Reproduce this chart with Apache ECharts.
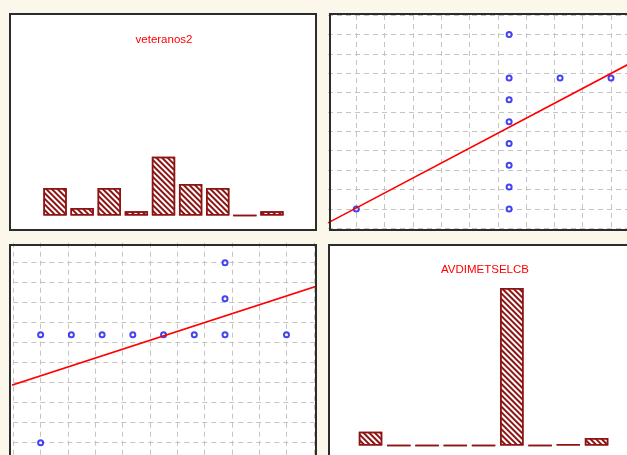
<!DOCTYPE html>
<html>
<head>
<meta charset="utf-8">
<script src="https://cdn.jsdelivr.net/npm/echarts@6/dist/echarts.min.js"></script>
<style>
  html, body { margin: 0; padding: 0; background: #fcf7eb; }
  #chart { width: 627px; height: 455px; }
</style>
</head>
<body>
<div id="chart"></div>
<script>
// Histogram bin counts for each variable (9 bins each)
const binLabels = ['1', '2', '3', '4', '5', '6', '7', '8', '9'];
const veteranos2Counts = [10, 2.7, 10, 1.5, 21.3, 11.4, 10, 0, 1.5];
const avdCounts = [5.0, 0, 0, 0, 0, 57.3, 0, 0.55, 2.7];
const sampleSize = 73;

// Paired observations: veteranos2 and AVDIMETSELCB
const veteranos2Values = [1, 1, 2, 3, 4, 5, 6, 7, 9, 7, 7];
const avdValues = [1, 6.4, 6.4, 6.4, 6.4, 6.4, 6.4, 6.4, 6.4, 8.2, 10];

// Least-squares fits in both directions
const fitVetOnAvd = { intercept: 0.36, slope: 0.685 };
const fitAvdOnVet = { intercept: 3.84, slope: 0.5 };

// Axis ranges: data range padded by one bin width on each side
const vetRange = [1 - 8 / 9, 9 + 8 / 9];
const avdRange = [0, 11];

const BAR_RED = '#8e1414';
const FRAME = '#2c2c2c';
const DOT_BLUE = '#1414f0';

const hatch = {
  symbol: 'rect',
  symbolSize: 1,
  color: BAR_RED,
  dashArrayX: [1, 0],
  dashArrayY: [1.5, 1.5],
  rotation: Math.PI / 4
};

const barStyle = {
  color: '#ffffff',
  borderColor: BAR_RED,
  borderWidth: 1.5,
  decal: hatch
};

const dashLine = { color: '#c4c4c4', width: 1, type: [5, 4] };

// Dashed 11-division reference grid
function gridAxis(gridIndex, splitExtra) {
  return {
    type: 'value', gridIndex: gridIndex, min: 0, max: 11, interval: 1,
    axisLine: { show: false }, axisTick: { show: false }, axisLabel: { show: false },
    splitLine: Object.assign({ show: true, lineStyle: dashLine }, splitExtra || {})
  };
}
function dataAxis(gridIndex, range) {
  return { type: 'value', gridIndex: gridIndex, min: range[0], max: range[1], show: false };
}

function fitLine(fit, range) {
  return range.map(function (x) { return [x, fit.intercept + fit.slope * x]; });
}

const chart = echarts.init(document.getElementById('chart'), null, { renderer: 'canvas' });

chart.setOption({
  animation: false,
  backgroundColor: '#fcf7eb',
  grid: [
    { left: 41.5, top: 14, width: 244, height: 201.5, outerBoundsMode: 'none' },
    { left: 328, top: 15, width: 311.3, height: 213.3, outerBoundsMode: 'none' },
    { left: 13.3, top: 242.7, width: 300.5, height: 220, outerBoundsMode: 'none' },
    { left: 356.4, top: 245, width: 254.3, height: 200.5, outerBoundsMode: 'none' }
  ],
  xAxis: [
    { type: 'category', gridIndex: 0, data: binLabels, show: false },
    gridAxis(1, { showMinLine: false }),
    dataAxis(1, avdRange),
    gridAxis(2),
    dataAxis(2, vetRange),
    { type: 'category', gridIndex: 3, data: binLabels, show: false }
  ],
  yAxis: [
    { type: 'value', gridIndex: 0, min: 0, max: sampleSize, show: false },
    gridAxis(1),
    dataAxis(1, vetRange),
    gridAxis(2, { showMaxLine: false }),
    dataAxis(2, avdRange),
    { type: 'value', gridIndex: 3, min: 0, max: sampleSize, show: false }
  ],
  graphic: [
    { type: 'rect', z: -10, shape: { x: 10, y: 14, width: 306, height: 216 }, style: { fill: '#ffffff' } },
    { type: 'rect', z: -10, shape: { x: 330, y: 14, width: 320, height: 216 }, style: { fill: '#ffffff' } },
    { type: 'rect', z: -10, shape: { x: 10, y: 245, width: 306, height: 230 }, style: { fill: '#ffffff' } },
    { type: 'rect', z: -10, shape: { x: 329, y: 245, width: 320, height: 230 }, style: { fill: '#ffffff' } },
    { type: 'rect', z: 100, shape: { x: 10, y: 14, width: 306, height: 216 }, style: { fill: 'none', stroke: FRAME, lineWidth: 2 } },
    { type: 'rect', z: 100, shape: { x: 330, y: 14, width: 320, height: 216 }, style: { fill: 'none', stroke: FRAME, lineWidth: 2 } },
    { type: 'rect', z: 100, shape: { x: 10, y: 245, width: 306, height: 230 }, style: { fill: 'none', stroke: FRAME, lineWidth: 2 } },
    { type: 'rect', z: 100, shape: { x: 329, y: 245, width: 320, height: 230 }, style: { fill: 'none', stroke: FRAME, lineWidth: 2 } },
    { type: 'text', z: 100, x: 164, y: 40, style: { text: 'veteranos2', fill: '#ff0000', font: '11.5px "Liberation Sans", Arial, sans-serif', align: 'center', verticalAlign: 'middle', textAlign: 'center', textVerticalAlign: 'middle' } },
    { type: 'text', z: 100, x: 485, y: 270, style: { text: 'AVDIMETSELCB', fill: '#ff0000', font: '11.5px "Liberation Sans", Arial, sans-serif', align: 'center', verticalAlign: 'middle', textAlign: 'center', textVerticalAlign: 'middle' } }
  ],
  series: [
    {
      name: 'veteranos2', type: 'bar', xAxisIndex: 0, yAxisIndex: 0,
      data: veteranos2Counts, barCategoryGap: '14%', itemStyle: barStyle
    },
    {
      name: 'veteranos2 vs AVDIMETSELCB', type: 'scatter', xAxisIndex: 2, yAxisIndex: 2,
      data: avdValues.map(function (a, i) { return [a, veteranos2Values[i]]; }),
      symbol: 'emptyCircle', symbolSize: 5,
      itemStyle: { color: DOT_BLUE, borderWidth: 1.8 }
    },
    {
      name: 'fit veteranos2', type: 'line', xAxisIndex: 2, yAxisIndex: 2,
      data: fitLine(fitVetOnAvd, avdRange), symbol: 'none',
      lineStyle: { color: '#ff0000', width: 1.6 }
    },
    {
      name: 'AVDIMETSELCB vs veteranos2', type: 'scatter', xAxisIndex: 4, yAxisIndex: 4,
      data: veteranos2Values.map(function (v, i) { return [v, avdValues[i]]; }),
      symbol: 'emptyCircle', symbolSize: 5,
      itemStyle: { color: DOT_BLUE, borderWidth: 1.8 }
    },
    {
      name: 'fit AVDIMETSELCB', type: 'line', xAxisIndex: 4, yAxisIndex: 4,
      data: fitLine(fitAvdOnVet, [vetRange[0] - 0.1, vetRange[1] + 0.1]), symbol: 'none', clip: false,
      lineStyle: { color: '#ff0000', width: 1.6 }
    },
    {
      name: 'AVDIMETSELCB', type: 'bar', xAxisIndex: 5, yAxisIndex: 5,
      data: avdCounts, barCategoryGap: '17%', itemStyle: barStyle
    }
  ]
});
</script>
</body>
</html>
